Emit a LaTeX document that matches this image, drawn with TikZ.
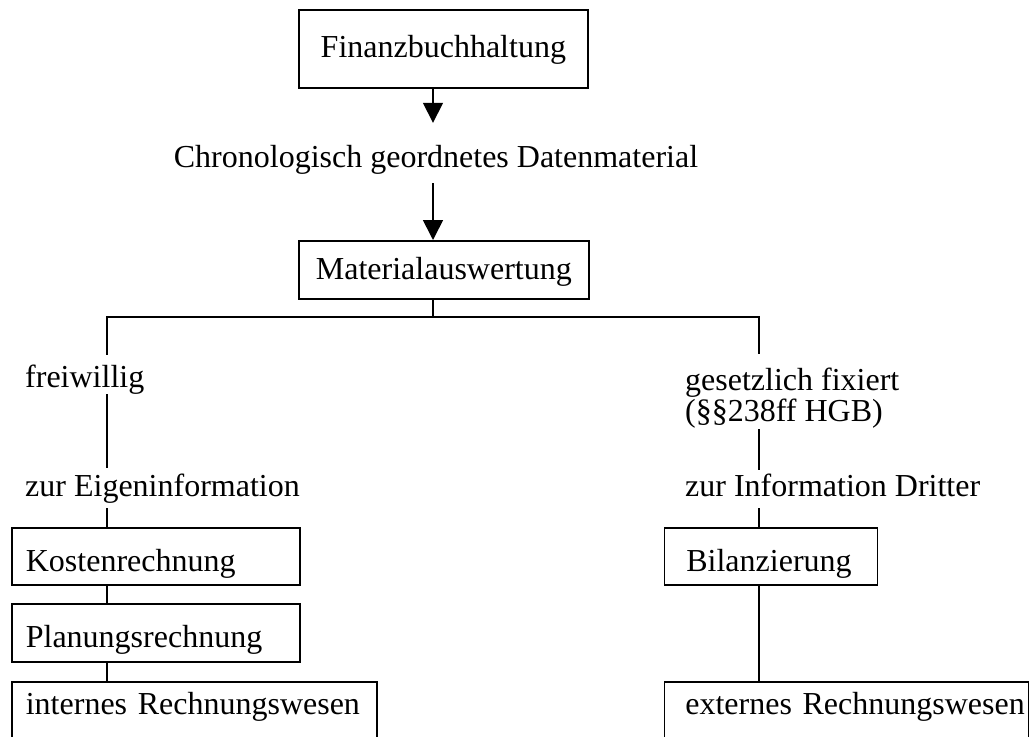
\documentclass[tikz,border=0pt]{standalone}
\usepackage{fontspec}
\setmainfont{Liberation Serif}
\usetikzlibrary{arrows.meta,calc}
\begin{document}
\begin{tikzpicture}[x=1pt,y=-1pt,
  every node/.style={font=\fontsize{32}{31}\selectfont, inner sep=0pt},
  ln/.style={line width=1.7pt},
  arr/.style={ln, -{Triangle[width=20pt,length=20pt]}},
  cbox/.style={draw, line width=1.7pt, align=center, anchor=north west},
  lbox/.style 2 args={draw, line width=1.7pt, anchor=north west, align=left, text width=#1, execute at begin node={\hspace*{#2}}},
  lbl/.style={anchor=base west, text height=22pt, text depth=7pt}]
\useasboundingbox (0,0) rectangle (1033,736);
\clip (0,0) rectangle (1033,736);
\coordinate (ax) at (433,0);
\coordinate (L) at (107,317);
\coordinate (R) at (759,317);

\node[cbox, minimum width=289pt, text height=48pt, text depth=30pt] (fin) at (298,9) {Finanzbuchhaltung};
\node[lbl, anchor=base] (chrono) at (436,167) {Chronologisch geordnetes Datenmaterial};
\node[cbox, minimum width=290pt, text height=39pt, text depth=19pt] (mat) at (298,240) {Materialauswertung};

\node[lbl] (frei) at (25,387) {freiwillig};
\node[lbl] (eigen) at (25,496) {zur Eigeninformation};
\node[anchor=base west, align=left] (gesetz) at (685,421) {gesetzlich fixiert\\(§§238ff HGB)};
\node[lbl] (info) at (685,496) {zur Information Dritter};

\node[lbox={288pt}{14pt}, text height=44pt, text depth=13pt] (kost) at (11,527) {Kostenrechnung};
\node[lbox={288pt}{14pt}, text height=44pt, text depth=14pt] (plan) at (11,603) {Planungsrechnung};
\node[lbox={365pt}{14pt}, text height=33pt, text depth=27pt] (int) at (11,681) {internes Rechnungswesen};
\node[lbox={213pt}{22pt}, text height=44pt, text depth=13pt] (bil) at (663.5,527) {Bilanzierung};
\node[lbox={364pt}{21pt}, text height=33pt, text depth=27pt] (ext) at (663.5,681) {externes Rechnungswesen};

\draw[arr] (fin.south -| ax) -- ($(chrono.north -| ax)+(0,-22)$);
\draw[arr] ($(chrono.south -| ax)+(0,9)$) -- (mat.north -| ax);
\draw[ln] (mat.south -| ax) -- (ax |- L);
\draw[ln] ($(frei.north -| L)+(0,-10)$) -- (L) -- (R) -- ($(gesetz.north -| R)+(0,-13)$);
\draw[ln] (frei.south -| L) -- ($(eigen.north -| L)+(0,-6)$);
\draw[ln] ($(eigen.south -| L)+(0,5)$) -- (kost.north -| L);
\draw[ln] (kost.south -| L) -- (plan.north -| L);
\draw[ln] (plan.south -| L) -- (int.north -| L);
\draw[ln] ($(gesetz.south -| R)+(0,1)$) -- ($(info.north -| R)+(0,-4)$);
\draw[ln] ($(info.south -| R)+(0,5)$) -- (bil.north -| R);
\draw[ln] (bil.south -| R) -- (ext.north -| R);
\end{tikzpicture}
\end{document}
